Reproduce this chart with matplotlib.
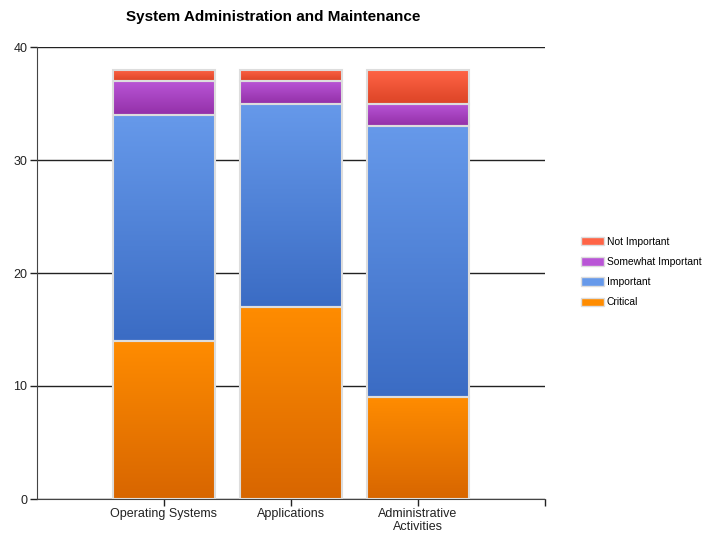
import numpy as np
import matplotlib
matplotlib.use('Agg')
from matplotlib import pyplot as plt
from matplotlib.colors import LinearSegmentedColormap
from matplotlib.patches import Patch

plt.rcParams['font.family'] = ['Liberation Sans', 'DejaVu Sans']

categories = ['Operating Systems', 'Applications', 'Administrative\nActivities']
critical = [14, 17, 9]
important = [20, 18, 24]
somewhat = [3, 2, 2]
not_important = [1, 1, 3]

series = [
    ('Critical', critical, '#ff8c00', '#d86600'),
    ('Important', important, '#6699ea', '#3b6cc4'),
    ('Somewhat Important', somewhat, '#b955d6', '#9330a8'),
    ('Not Important', not_important, '#ff6446', '#dc4426'),
]

fig = plt.figure(figsize=(7.04, 5.34), dpi=100)
ax = fig.add_axes([37 / 704, 35 / 534, 508 / 704, 452 / 534])

x = np.arange(1, len(categories) + 1)
bottom = np.zeros(len(categories))
grad = np.linspace(0, 1, 100).reshape(-1, 1)

for name, vals, top_c, bot_c in series:
    bars = ax.bar(x, vals, width=0.81, bottom=bottom, color='none',
                  edgecolor='#dddddd', linewidth=1.5, zorder=3)
    cmap = LinearSegmentedColormap.from_list(name, [bot_c, top_c])
    for b in bars:
        x0, y0 = b.get_x(), b.get_y()
        w, h = b.get_width(), b.get_height()
        im = ax.imshow(grad, cmap=cmap, origin='lower', aspect='auto',
                       extent=[x0, x0 + w, y0, y0 + h], zorder=2)
        im.set_clip_path(b)
    bottom += np.array(vals)

ax.set_xlim(0, 4)
ax.set_ylim(0, 40)
ax.set_yticks([0, 10, 20, 30, 40])
ax.set_xticks([1, 2, 3, 4])
ax.set_xticklabels(categories + [''], linespacing=1.08)
ax.yaxis.grid(True, color='#222222', linewidth=1, zorder=1)
ax.set_axisbelow(True)
for s in ['top', 'right']:
    ax.spines[s].set_visible(False)
for s in ['left', 'bottom']:
    ax.spines[s].set_color('#444444')
ax.tick_params(axis='both', labelsize=9, colors='#222222', length=5, width=1)
ax.tick_params(axis='x', pad=1.5)
ax.tick_params(axis='y', pad=2)

fig.text(273 / 704, 1 - 17 / 534, 'System Administration and Maintenance',
         ha='center', va='center', fontsize=11, fontweight='bold')

handles = [Patch(facecolor=top_c, edgecolor='#dddddd', label=name)
           for name, vals, top_c, bot_c in series][::-1]
fig.legend(handles=handles, loc='center left', bbox_to_anchor=(572 / 704, 1 - 272 / 534),
           frameon=False, fontsize=7.4, handlelength=2.2, handleheight=0.9,
           labelspacing=1.0, handletextpad=0.3)

fig.savefig('out.png', dpi=100)
